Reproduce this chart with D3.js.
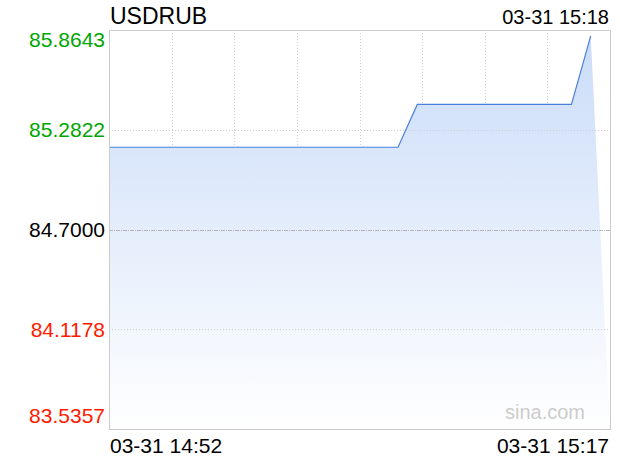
<!DOCTYPE html>
<html>
<head>
<meta charset="utf-8">
<script src="https://cdn.jsdelivr.net/npm/d3@7"></script>
<style>
  body { margin: 0; background: #fff; }
  text { font-family: "Liberation Sans", Arial, Helvetica, sans-serif; }
</style>
</head>
<body>
<div id="chart"></div>
<script>
// data
var symbol = "USDRUB";
var dateLabel = "03-31";
var lastTime = "15:18";
var prevClose = 84.7;
var yTicks = [85.8643, 85.2822, 84.7000, 84.1178, 83.5357];
var times = ["14:52", "14:53", "14:54", "14:55", "14:56", "14:57", "14:58", "14:59",
  "15:00", "15:01", "15:02", "15:03", "15:04", "15:05", "15:06", "15:07",
  "15:08", "15:09", "15:10", "15:11", "15:12", "15:13", "15:14", "15:15", "15:16", "15:17"];
var prices = [85.18, 85.18, 85.18, 85.18, 85.18, 85.18, 85.18, 85.18,
  85.18, 85.18, 85.18, 85.18, 85.18, 85.18, 85.18, 85.18,
  85.43, 85.43, 85.43, 85.43, 85.43, 85.43, 85.43, 85.43, 85.43, 85.83];

var width = 620, height = 460;
var margin = { top: 30, right: 10, bottom: 31, left: 109 };
var w = width - margin.left - margin.right;
var h = height - margin.top - margin.bottom;

var parseT = d3.timeParse("%H:%M");
var data = times.map((t, i) => ({ t: parseT(t), v: prices[i] }));

var svg = d3.select("#chart")
  .append("svg")
    .attr("width", width)
    .attr("height", height);

var g = svg.append("g")
    .attr("transform", "translate(" + margin.left + "," + margin.top + ")");

var x = d3.scaleTime()
  .domain([parseT(times[0]), parseT(lastTime)])
  .range([0, w]);

var y = d3.scaleLinear()
  .domain([d3.min(yTicks), d3.max(yTicks)])
  .range([h, 0]);

// gradient for the area
var grad = svg.append("defs").append("linearGradient")
  .attr("id", "fillGrad")
  .attr("x1", 0).attr("y1", 0).attr("x2", 0).attr("y2", 1);
grad.append("stop").attr("offset", "0%").attr("stop-color", "#cadcf8");
grad.append("stop").attr("offset", "100%").attr("stop-color", "#ffffff");

// vertical grid
var vTicks = d3.range(1, 8).map((i) => x.invert(w * i / 8));
g.selectAll(".vgrid")
  .data(vTicks)
  .enter().append("line")
    .attr("x1", (d) => Math.round(x(d)) + 0.5)
    .attr("x2", (d) => Math.round(x(d)) + 0.5)
    .attr("y1", 0)
    .attr("y2", h)
    .attr("stroke", "#d0d0d0")
    .attr("stroke-dasharray", "1,2");

// area (closes down at the next minute)
var areaPts = data.concat([{ t: parseT(lastTime), v: y.domain()[0] }]);
g.append("path")
  .datum(areaPts)
  .attr("fill", "url(#fillGrad)")
  .attr("d", d3.area()
    .x((d) => x(d.t))
    .y0(h)
    .y1((d) => y(d.v)));

// horizontal grid
g.selectAll(".hgrid")
  .data(yTicks.slice(1, -1))
  .enter().append("line")
    .attr("x1", 0)
    .attr("x2", w)
    .attr("y1", (d) => Math.round(y(d)) + 0.5)
    .attr("y2", (d) => Math.round(y(d)) + 0.5)
    .attr("stroke", (d) => d === prevClose ? "#b4b4bc" : "#d0d0d0")
    .attr("stroke-dasharray", (d) => d === prevClose ? "4,1,1,1" : "1,2");

// price line
g.append("path")
  .datum(data)
  .attr("fill", "none")
  .attr("stroke", "#4a80dc")
  .attr("stroke-width", 1.2)
  .attr("d", d3.line()
    .x((d) => x(d.t))
    .y((d) => y(d.v)));

// border
g.append("rect")
  .attr("x", 0.5).attr("y", 0.5)
  .attr("width", w).attr("height", h)
  .attr("fill", "none")
  .attr("stroke", "#cccccc");

// y labels
svg.selectAll(".ylab")
  .data(yTicks)
  .enter().append("text")
    .attr("x", 105)
    .attr("y", (d, i) => {
      var yy = margin.top + y(d) + 7.5;
      if (i === 0) return 47;
      if (i === yTicks.length - 1) return 422.5;
      return yy;
    })
    .attr("text-anchor", "end")
    .attr("font-size", 21)
    .attr("fill", (d) => d > prevClose ? "#00a600" : (d < prevClose ? "#ff1a00" : "#000"))
    .text((d) => d.toFixed(4));

// title and time
svg.append("text")
  .attr("x", 110).attr("y", 24)
  .attr("font-size", 23)
  .text(symbol);

svg.append("text")
  .attr("x", 609).attr("y", 24)
  .attr("text-anchor", "end")
  .attr("font-size", 20)
  .text(dateLabel + " " + lastTime);

// x labels
svg.append("text")
  .attr("x", 110).attr("y", 453)
  .attr("font-size", 21)
  .text(dateLabel + " " + times[0]);

svg.append("text")
  .attr("x", 609).attr("y", 453)
  .attr("text-anchor", "end")
  .attr("font-size", 21)
  .text(dateLabel + " " + times[times.length - 1]);

// watermark
svg.append("text")
  .attr("x", 585).attr("y", 419)
  .attr("text-anchor", "end")
  .attr("font-size", 20)
  .attr("fill", "#cccccc")
  .text("sina.com");
</script>
</body>
</html>
